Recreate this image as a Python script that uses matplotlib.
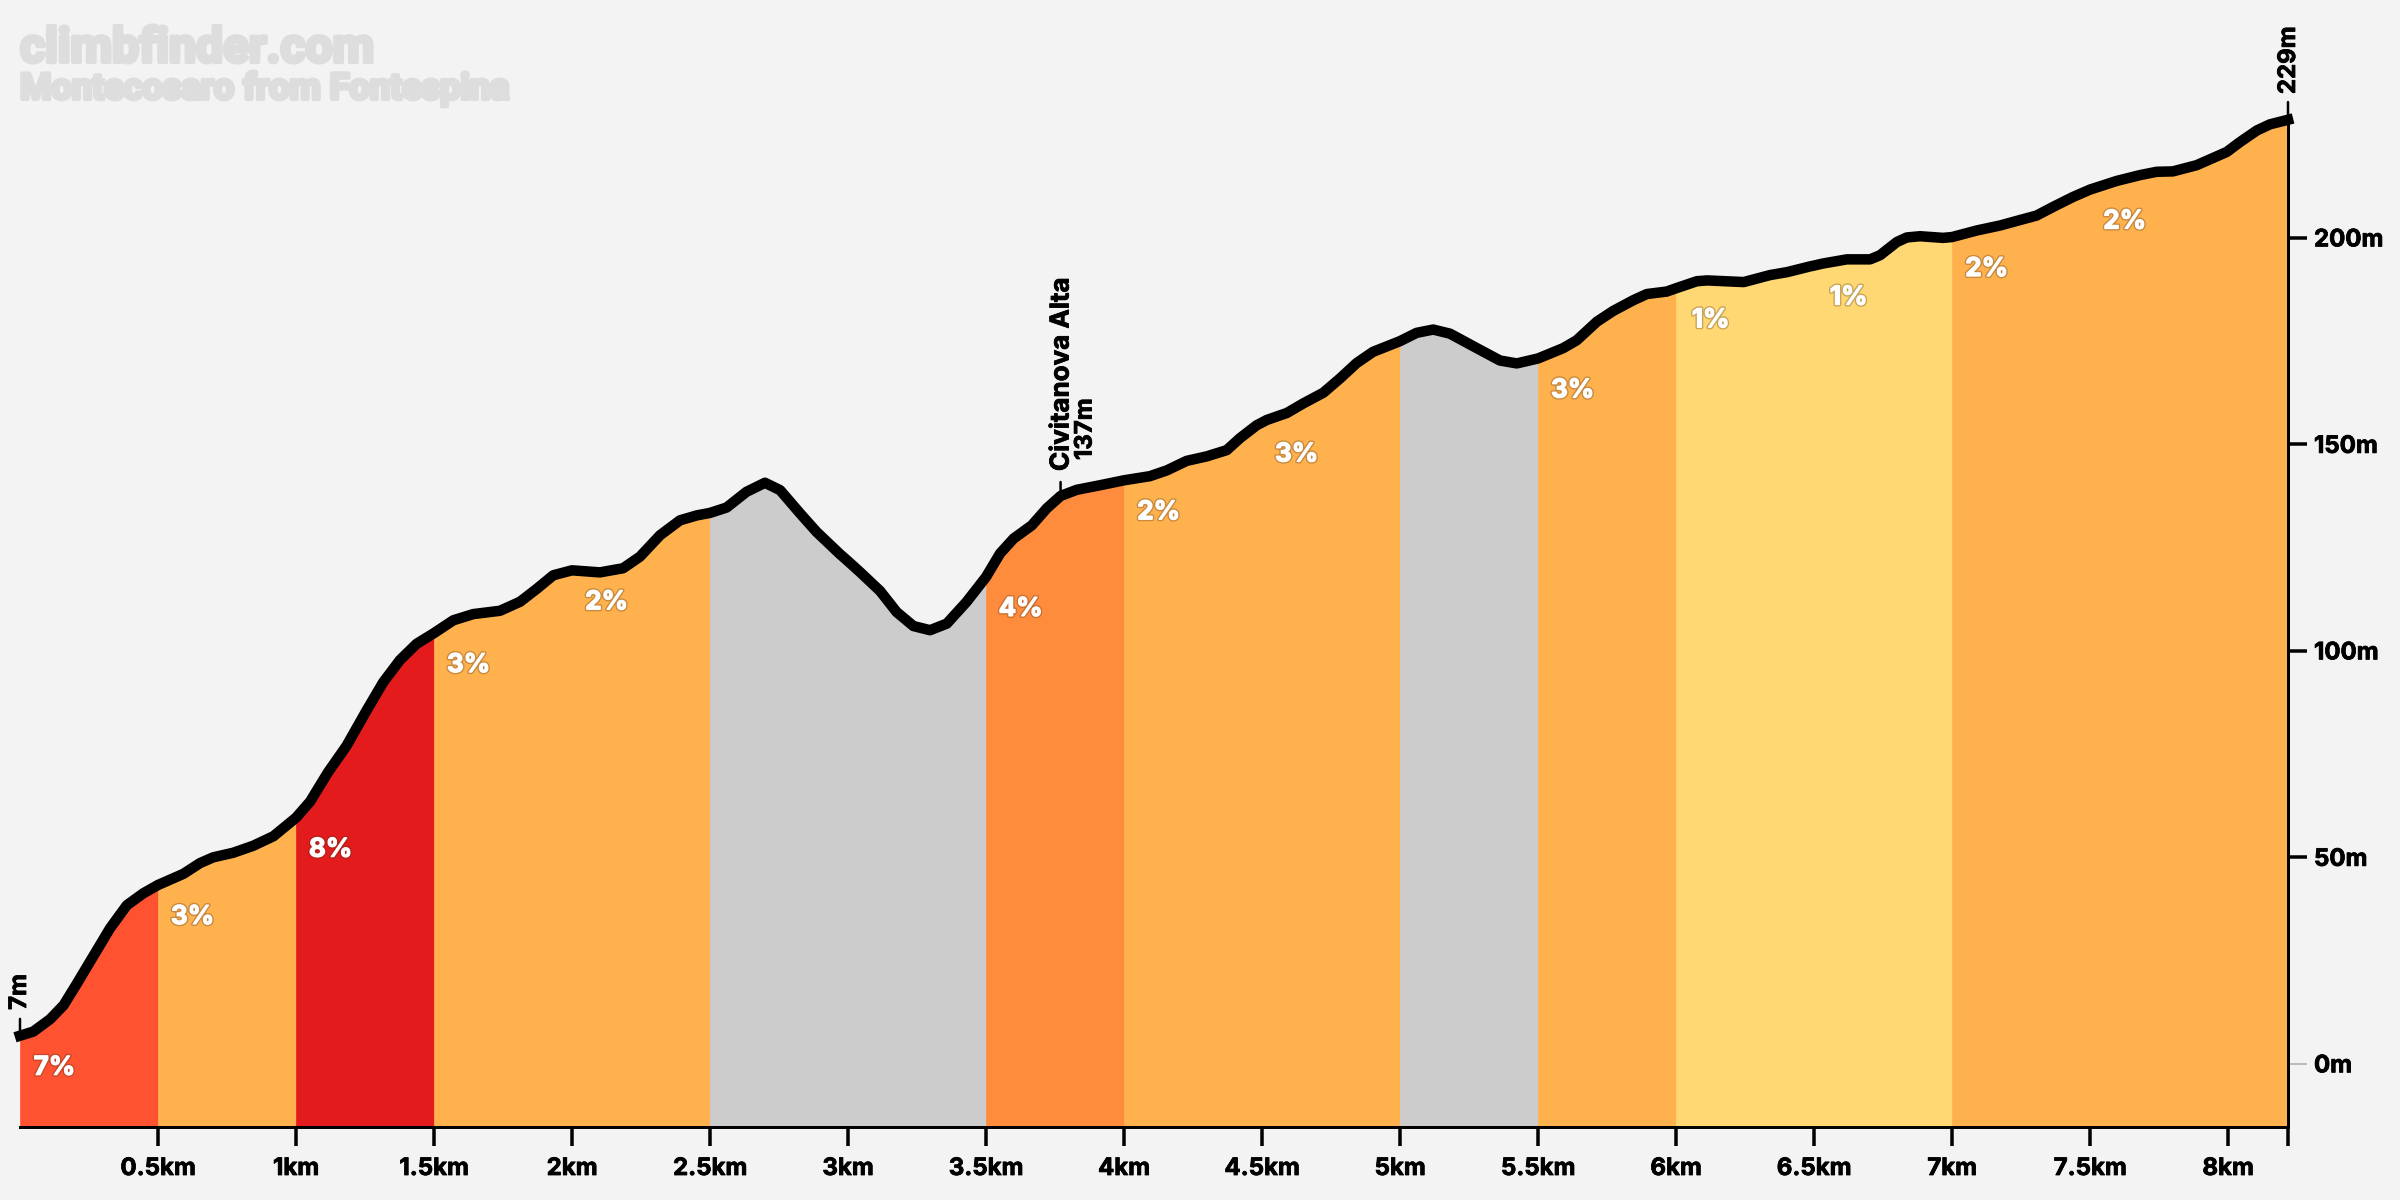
import numpy as np
import matplotlib
matplotlib.use("Agg")
import matplotlib.pyplot as plt
import matplotlib.patheffects as pe

# --- DATA ---
distance_km = [0, 0.048, 0.109, 0.158, 0.205, 0.265, 0.326, 0.387, 0.447, 0.5, 0.592, 0.652, 0.7, 0.772, 0.845, 0.918, 1.0,
               1.051, 1.116, 1.183, 1.256, 1.316, 1.377, 1.437, 1.5, 1.57, 1.642, 1.739, 1.812, 1.872, 1.932, 2.0,
               2.101, 2.185, 2.246, 2.319, 2.391, 2.452, 2.5, 2.56, 2.632, 2.699, 2.754, 2.826, 2.886, 2.971, 3.0,
               3.043, 3.116, 3.176, 3.237, 3.297, 3.358, 3.43, 3.5, 3.551, 3.6, 3.666, 3.72, 3.77, 3.829, 3.913, 4.0,
               4.094, 4.155, 4.227, 4.3, 4.372, 4.42, 4.48, 4.5, 4.517, 4.59, 4.649, 4.722, 4.783, 4.843, 4.902, 5.0,
               5.06, 5.12, 5.181, 5.278, 5.362, 5.423, 5.5, 5.591, 5.64, 5.713, 5.772, 5.845, 5.894, 5.966, 6.0,
               6.075, 6.112, 6.245, 6.341, 6.402, 6.486, 6.5, 6.533, 6.619, 6.703, 6.739, 6.8, 6.836, 6.884, 6.967, 7.0,
               7.09, 7.174, 7.234, 7.306, 7.366, 7.438, 7.5, 7.597, 7.681, 7.741, 7.8, 7.886, 7.995, 8.043, 8.104, 8.152, 8.217]
elevation_m = [6.8, 7.8, 10.8, 14.2, 19.3, 26, 32.8, 38.4, 41.3, 43.3, 46, 48.6, 50, 51.1, 52.8, 55.1, 59.6,
               63.5, 70.6, 77, 85.6, 92.4, 97.8, 101.7, 104.3, 107.4, 108.9, 109.7, 111.9, 115, 118.3, 119.5,
               119, 120, 122.8, 128, 131.6, 132.8, 133.4, 134.7, 138.5, 140.7, 138.9, 133.3, 128.8, 123.4, 121.7,
               119.1, 114.5, 109.4, 106, 105, 106.6, 111.9, 117.9, 123.6, 127.2, 130.4, 134.5, 137.5, 139, 140.1, 141.3,
               142.3, 143.7, 146, 147.1, 148.6, 151.5, 154.6, 155.3, 155.9, 157.6, 159.9, 162.5, 166, 169.7, 172.4, 175,
               177, 177.8, 176.8, 173.3, 170.3, 169.6, 170.8, 173.3, 175.2, 179.7, 182.3, 184.9, 186.4, 187, 187.8,
               189.5, 189.7, 189.3, 191, 191.7, 193.1, 193.3, 193.8, 194.8, 194.8, 195.8, 199, 200.1, 200.4, 200, 200.2,
               201.8, 203, 204.1, 205.4, 207.5, 209.9, 211.7, 213.8, 215.2, 216, 216.1, 217.6, 220.8, 223.2, 226, 227.5, 228.6]

seg_starts = [0, 0.5, 1, 1.5, 2, 2.5, 3, 3.5, 4, 4.5, 5, 5.5, 6, 6.5, 7, 7.5]
seg_grades = [7, 3, 8, 3, 2, None, None, 4, 2, 3, None, 3, 1, 1, 2, 2]

x_ticks = [0.5, 1, 1.5, 2, 2.5, 3, 3.5, 4, 4.5, 5, 5.5, 6, 6.5, 7, 7.5, 8]
x_labels = ["0.5km", "1km", "1.5km", "2km", "2.5km", "3km", "3.5km", "4km", "4.5km", "5km", "5.5km", "6km", "6.5km", "7km", "7.5km", "8km"]
y_ticks = [0, 50, 100, 150, 200]
y_labels = ["0m", "50m", "100m", "150m", "200m"]

# --- STYLE ---
PX = 72 / 200  # one output pixel in points
BG = "#F3F3F3"
Y_BOTTOM = -15.3
GRADE_COLORS = {None: "#CCCCCC", 1: "#FFD773", 2: "#FFB14E", 3: "#FFB14E", 4: "#FF8C3D", 7: "#FF5230", 8: "#E31B1C"}
LABEL_FONT = {"family": "Inter", "fontweight": "bold", "fontsize": 24 * PX}
HEAVY = [pe.withStroke(linewidth=0.8 * PX, foreground="black")]
# soft dark halo first, then a white stroke to fatten the glyphs
PERCENT_FX = [pe.Stroke(linewidth=4 * PX, foreground=(0.3, 0.2, 0.1, 0.3)),
              pe.withStroke(linewidth=1.2 * PX, foreground="white")]

fig = plt.figure(figsize=(12, 6), dpi=200, facecolor=BG)
ax = fig.add_axes([20 / 2400, 73 / 1200, 2268 / 2400, 1127 / 1200], facecolor=BG)
ax.set_xlim(0, distance_km[-1])
ax.set_ylim(Y_BOTTOM, 257.6)

dist = np.array(distance_km)
elev = np.array(elevation_m)

# 1. colored slope blocks
seg_ends = seg_starts[1:] + [distance_km[-1]]
for start, end, grade in zip(seg_starts, seg_ends, seg_grades):
    mask = (dist >= start) & (dist <= end)
    ax.fill_between(dist[mask], Y_BOTTOM, elev[mask], color=GRADE_COLORS[grade], linewidth=0.25, zorder=1)
    if grade is not None:
        y0 = elev[dist == start][0]
        ax.annotate(f"{grade}%", (start + 0.125, y0), xytext=(0, -32 * PX), textcoords="offset points",
                    ha="center", va="center", color="white", zorder=4, path_effects=PERCENT_FX,
                    family="Inter", fontweight="bold", fontsize=26 * PX)

# 2. profile line
ax.plot(dist, elev, color="black", lw=10.5 * PX, solid_capstyle="projecting", solid_joinstyle="round", clip_on=False, zorder=3)

# 3. axes
for side in ["top", "left"]:
    ax.spines[side].set_visible(False)
ax.spines["bottom"].set_linewidth(3 * PX)
ax.spines["right"].set_linewidth(3 * PX)
ax.spines["right"].set_bounds(Y_BOTTOM, elevation_m[-1])
ax.set_xticks(x_ticks + [distance_km[-1]], x_labels + [""], **LABEL_FONT)
ax.yaxis.tick_right()
ax.set_yticks(y_ticks, y_labels, **LABEL_FONT)
ax.tick_params(axis="x", length=19 * PX, width=3.5 * PX, pad=12 * PX)
ax.tick_params(axis="y", length=19 * PX, width=3.5 * PX, pad=7 * PX)
for label in ax.get_xticklabels() + ax.get_yticklabels():
    label.set_path_effects(HEAVY)
zero_tick = ax.yaxis.get_major_ticks()[0].tick2line
zero_tick.set_markeredgecolor("#BBBBBB")
zero_tick.set_markeredgewidth(2 * PX)

# 4. named points along the climb
def mark(km, metres, lines):
    ax.annotate("", (km, metres), xytext=(0, 16 * PX), textcoords="offset points",
                arrowprops=dict(arrowstyle="-", color="black", lw=2.5 * PX, shrinkA=0, shrinkB=0), zorder=2)
    for text, dx, dy, size in lines:
        font = dict(LABEL_FONT, fontsize=size * PX)
        ax.annotate(text, (km, metres), xytext=(dx * PX, dy * PX), textcoords="offset points", rotation=90,
                    ha="center", va="bottom", annotation_clip=False, path_effects=HEAVY, **font)

mark(0, 7, [("7m", 0, 25, 24)])
mark(3.77, 137, [("Civitanova Alta", 1, 27, 26), ("137m", 25, 38, 24)])
mark(8.217, 229, [("229m", 1, 24, 24)])

# 5. watermark title
fig.text(20 / 2400, 1 - 62 / 1200, "climbfinder.com", family="Roboto", fontweight="bold", fontsize=48 * PX, color="#DDDDDD",
         path_effects=[pe.withStroke(linewidth=1.5, foreground="#DDDDDD")])
fig.text(20 / 2400, 1 - 99 / 1200, "Montecosaro from Fontespina", family="Roboto", fontweight="bold", fontsize=36 * PX, color="#DDDDDD",
         path_effects=[pe.withStroke(linewidth=1.5, foreground="#DDDDDD")])

fig.savefig("out.png", dpi=200, facecolor=BG)
